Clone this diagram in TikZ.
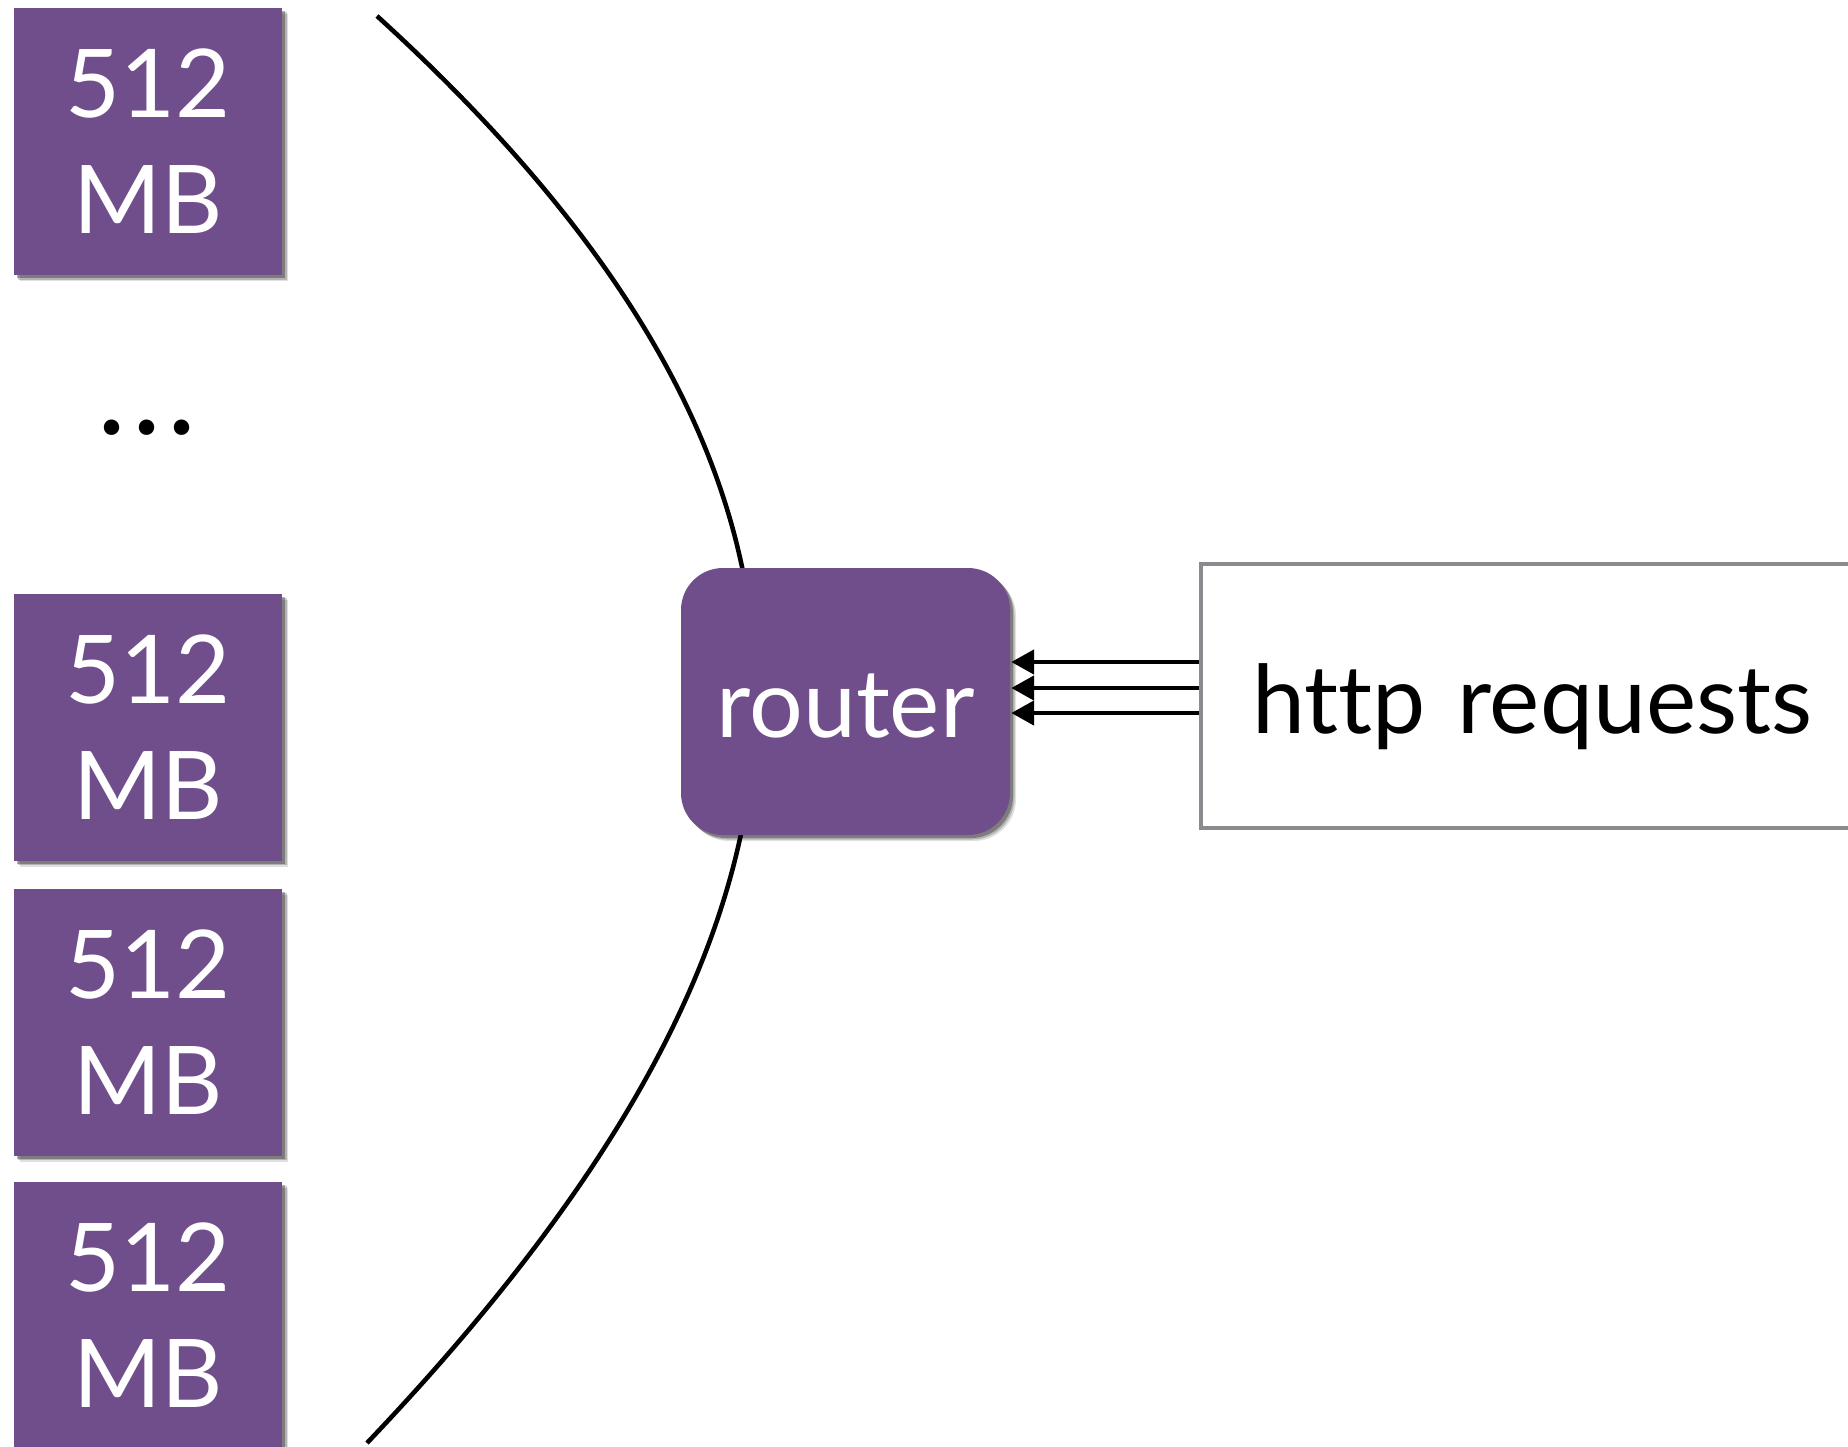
\documentclass[tikz,border=0pt]{standalone}
\usepackage{fontspec}
\setmainfont[Ligatures=NoCommon]{Lato}
\usetikzlibrary{arrows.meta,shadows}
\definecolor{dynopurple}{RGB}{112,77,139}
\definecolor{edgegray}{RGB}{137,139,143}
\begin{document}
\begin{tikzpicture}[line width=.7pt,
  softshadow/.style={
    general shadow={shadow xshift=.06cm,shadow yshift=-.06cm,opacity=.12,fill=black},
    general shadow={shadow xshift=.045cm,shadow yshift=-.045cm,opacity=.2,fill=black},
    general shadow={shadow xshift=.03cm,shadow yshift=-.03cm,opacity=.3,fill=black}},
  dyno/.style={fill=dynopurple,text=white,inner sep=0pt,align=center,
    font=\fontsize{27}{33}\selectfont,softshadow},
  mem/.style={dyno,minimum width=2.68cm,minimum height=2.67cm},
  routerbox/.style={dyno,rounded corners=.42cm,minimum width=3.29cm,minimum height=2.67cm,
    text height=.71cm,text depth=0cm},
  reqbox/.style={draw=edgegray,line width=1.15pt,anchor=west,minimum height=2.64cm,
    text width=6cm,align=left,inner xsep=.51cm,text height=.93cm,text depth=.19cm,
    font=\fontsize{27}{33}\selectfont},
  feed/.style={line width=1.4pt,-{Triangle[length=2.3mm,width=2.4mm]}}]
\clip (0,0) rectangle (18.48,-14.46);

\coordinate (archtop) at (3.77,-0.16);
\coordinate (archbot) at (3.67,-14.43);
\draw[line width=1.3pt] (archtop) .. controls (9.12,-5.03) and (8.54,-9.31) .. (archbot);

\node[mem] (mem1) at (1.48,-1.415) {512\\MB};
\node[font=\fontsize{35}{40}\selectfont] (dots) at (1.47,-4.28) {.\kern.06cm.\kern.06cm.};
\node[mem] (mem2) at (1.48,-7.27) {512\\MB};
\node[mem] (mem3) at (1.48,-10.22) {512\\MB};
\node[mem] (mem4) at (1.48,-13.15) {512\\MB};

\node[routerbox] (router) at (8.455,-7.015) {router};
\node[reqbox] (req) at (11.99,-6.96) {http requests};

\draw[feed] ([yshift=.34cm]req.west) -- ([yshift=.34cm]req.west -| router.east);
\draw[feed] ([yshift=.08cm]req.west) -- ([yshift=.08cm]req.west -| router.east);
\draw[feed] ([yshift=-.17cm]req.west) -- ([yshift=-.17cm]req.west -| router.east);
\end{tikzpicture}
\end{document}
